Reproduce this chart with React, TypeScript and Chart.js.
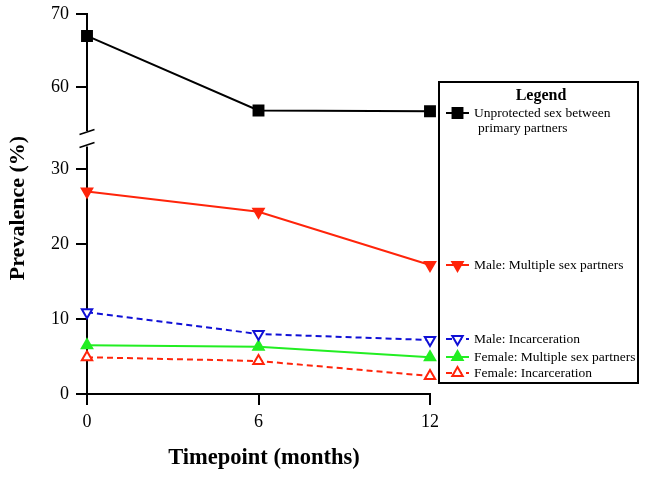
import React, { useEffect, useRef } from 'react';
import { Chart, registerables } from 'chart.js';

Chart.register(...registerables);

const timepoints = [0, 6, 12];
const unprotectedPrimary = [67, 56.8, 56.7];
const maleMultiple = [27, 24.3, 17.2];
const maleIncarceration = [10.9, 8.0, 7.2];
const femaleMultiple = [6.5, 6.3, 4.9];
const femaleIncarceration = [4.9, 4.4, 2.4];

const lowerTicks = [0, 10, 20, 30];
const upperTicks = [60, 70];
const xTicks = [0, 6, 12];

const seriesLabels = [
  ['Unprotected sex between', 'primary partners'],
  ['Male: Multiple sex partners'],
  ['Male: Incarceration'],
  ['Female: Multiple sex partners'],
  ['Female: Incarceration'],
];

const RED = '#ff240a';
const BLUE = '#1010d6';
const GREEN = '#22ee22';
const BLACK = '#000000';
const SERIF = '"Liberation Serif", "Times New Roman", serif';

type MarkerStyle = 'rect' | 'up' | 'down';

function drawMarker(ctx: CanvasRenderingContext2D, style: MarkerStyle, x: number, y: number, r: number, color: string, filled: boolean) {
  ctx.beginPath();
  if (style === 'rect') {
    const s = r * Math.SQRT1_2;
    ctx.rect(x - s, y - s, 2 * s, 2 * s);
  } else {
    let a = style === 'down' ? Math.PI : 0;
    ctx.moveTo(x + Math.sin(a) * r, y - Math.cos(a) * r);
    a += (2 * Math.PI) / 3;
    ctx.lineTo(x + Math.sin(a) * r, y - Math.cos(a) * r);
    a += (2 * Math.PI) / 3;
    ctx.lineTo(x + Math.sin(a) * r, y - Math.cos(a) * r);
    ctx.closePath();
  }
  ctx.fillStyle = filled ? color : '#ffffff';
  ctx.fill();
  ctx.setLineDash([]);
  ctx.lineWidth = 2;
  ctx.strokeStyle = color;
  ctx.stroke();
}

const legendMeta: { color: string; dash: number[]; style: MarkerStyle; filled: boolean; r: number }[] = [
  { color: BLACK, dash: [], style: 'rect', filled: true, r: 7 },
  { color: RED, dash: [], style: 'down', filled: true, r: 6 },
  { color: BLUE, dash: [6, 4], style: 'down', filled: false, r: 6 },
  { color: GREEN, dash: [], style: 'up', filled: true, r: 6 },
  { color: RED, dash: [6, 4], style: 'up', filled: false, r: 6 },
];
const legendY = [113, 265, 339, 357, 373];

const decorPlugin = {
  id: 'decor',
  beforeDatasetsDraw(chart: any) {
    const ctx: CanvasRenderingContext2D = chart.ctx;
    const top = chart.scales.yTop;
    const low = chart.scales.yLow;
    const ax = chart.chartArea.left;
    const topStart = top.getPixelForValue(70);
    const topEnd = top.getPixelForValue(54);
    const lowStart = low.getPixelForValue(33);
    const lowEnd = low.getPixelForValue(0);
    ctx.save();
    ctx.strokeStyle = '#000';
    ctx.lineWidth = 2;
    ctx.setLineDash([]);
    ctx.beginPath();
    ctx.moveTo(ax, topStart - 1);
    ctx.lineTo(ax, topEnd);
    ctx.moveTo(ax, lowStart);
    ctx.lineTo(ax, lowEnd);
    ctx.stroke();
    // break marks
    ctx.lineWidth = 1.6;
    ctx.beginPath();
    ctx.moveTo(ax - 7.5, topEnd + 3.5);
    ctx.lineTo(ax + 7.5, topEnd - 1.5);
    ctx.moveTo(ax - 7.5, lowStart + 1);
    ctx.lineTo(ax + 7.5, lowStart - 4);
    ctx.stroke();
    ctx.restore();
  },
  afterDraw(chart: any) {
    const ctx: CanvasRenderingContext2D = chart.ctx;
    ctx.save();
    // axis titles
    ctx.fillStyle = '#000';
    ctx.textAlign = 'center';
    ctx.textBaseline = 'middle';
    ctx.font = `bold 22.5px ${SERIF}`;
    ctx.fillText('Timepoint (months)', 264, 458);
    ctx.save();
    ctx.translate(18, 208);
    ctx.rotate(-Math.PI / 2);
    ctx.font = `bold 22px ${SERIF}`;
    ctx.fillText('Prevalence (%)', 0, 0);
    ctx.restore();

    // legend box
    ctx.strokeStyle = '#000';
    ctx.lineWidth = 2;
    ctx.setLineDash([]);
    ctx.strokeRect(439, 82, 199, 301);
    ctx.font = `bold 16px ${SERIF}`;
    ctx.fillText('Legend', 541, 96);

    ctx.textAlign = 'left';
    ctx.font = `13.5px ${SERIF}`;
    legendMeta.forEach((m, i) => {
      const y = legendY[i];
      ctx.strokeStyle = m.color;
      ctx.lineWidth = 2;
      ctx.setLineDash(m.dash);
      ctx.beginPath();
      ctx.moveTo(446, y);
      ctx.lineTo(469, y);
      ctx.stroke();
      drawMarker(ctx, m.style, 457.5, y, m.r, m.color, m.filled);
      ctx.fillStyle = '#000';
      const lines = seriesLabels[i];
      lines.forEach((t, j) => {
        ctx.fillText(t, j === 0 ? 474 : 478, y + j * 15);
      });
    });
    ctx.restore();
  },
};

function toPoints(vals: number[]) {
  return timepoints.map((t, i) => ({ x: t, y: vals[i] }));
}

const yFit = (s: any) => {
  s.width = 87;
  s.paddingTop = 0;
  s.paddingBottom = 0;
};

export default function App() {
  const ref = useRef<HTMLCanvasElement | null>(null);
  useEffect(() => {
    if (!ref.current) return;
    const common = { borderWidth: 2, pointBorderWidth: 2, clip: false as any, tension: 0 };
    const chart = new Chart(ref.current, {
      type: 'line',
      data: {
        datasets: [
          {
            ...common,
            label: seriesLabels[0].join(' '),
            data: toPoints(unprotectedPrimary),
            yAxisID: 'yTop',
            borderColor: BLACK,
            backgroundColor: BLACK,
            pointStyle: 'rect',
            pointRadius: 7,
            pointBackgroundColor: BLACK,
            pointBorderColor: BLACK,
          },
          {
            ...common,
            label: seriesLabels[1][0],
            data: toPoints(maleMultiple),
            yAxisID: 'yLow',
            borderColor: RED,
            pointStyle: 'triangle',
            pointRotation: 180,
            pointRadius: 6,
            pointBackgroundColor: RED,
            pointBorderColor: RED,
          },
          {
            ...common,
            label: seriesLabels[2][0],
            data: toPoints(maleIncarceration),
            yAxisID: 'yLow',
            borderColor: BLUE,
            borderDash: [6, 4],
            pointStyle: 'triangle',
            pointRotation: 180,
            pointRadius: 6,
            pointBackgroundColor: '#ffffff',
            pointBorderColor: BLUE,
          },
          {
            ...common,
            label: seriesLabels[3][0],
            data: toPoints(femaleMultiple),
            yAxisID: 'yLow',
            borderColor: GREEN,
            pointStyle: 'triangle',
            pointRadius: 6,
            pointBackgroundColor: GREEN,
            pointBorderColor: GREEN,
          },
          {
            ...common,
            label: seriesLabels[4][0],
            data: toPoints(femaleIncarceration),
            yAxisID: 'yLow',
            borderColor: RED,
            borderDash: [6, 4],
            pointStyle: 'triangle',
            pointRadius: 6,
            pointBackgroundColor: '#ffffff',
            pointBorderColor: RED,
          },
        ],
      },
      options: {
        animation: false,
        responsive: true,
        maintainAspectRatio: false,
        layout: { padding: { top: 14, right: 216, left: 0, bottom: 0 } },
        plugins: { legend: { display: false }, tooltip: { enabled: false } },
        scales: {
          x: {
            type: 'linear',
            min: 0,
            max: 12,
            afterBuildTicks: (s: any) => {
              s.ticks = xTicks.map((v) => ({ value: v }));
            },
            afterFit: (s: any) => {
              s.height = 85;
            },
            grid: { drawOnChartArea: false, drawTicks: true, tickLength: 11, color: '#000', lineWidth: 2 },
            border: { display: true, color: '#000', width: 2 },
            ticks: { color: '#000', font: { family: SERIF, size: 18 }, padding: 6, maxRotation: 0 },
          },
          yLow: {
            type: 'linear',
            position: 'left',
            stack: 'ystack',
            stackWeight: 255,
            min: 0,
            max: 34,
            afterBuildTicks: (s: any) => {
              s.ticks = lowerTicks.map((v) => ({ value: v }));
            },
            afterFit: yFit,
            grid: { drawOnChartArea: false, drawTicks: true, tickLength: 11, color: '#000', lineWidth: 2 },
            border: { display: false },
            ticks: { color: '#000', font: { family: SERIF, size: 18 }, padding: 7 },
          },
          yTop: {
            type: 'linear',
            position: 'left',
            stack: 'ystack',
            stackWeight: 125,
            min: 52.9,
            max: 70,
            afterBuildTicks: (s: any) => {
              s.ticks = upperTicks.map((v) => ({ value: v }));
            },
            afterFit: yFit,
            grid: { drawOnChartArea: false, drawTicks: true, tickLength: 11, color: '#000', lineWidth: 2 },
            border: { display: false },
            ticks: { color: '#000', font: { family: SERIF, size: 18 }, padding: 7 },
          },
        },
      } as any,
      plugins: [decorPlugin],
    });
    return () => chart.destroy();
  }, []);
  return (
    <div style={{ position: 'fixed', left: 0, top: 0, width: 646, height: 479, background: '#fff' }}>
      <canvas ref={ref} />
    </div>
  );
}
